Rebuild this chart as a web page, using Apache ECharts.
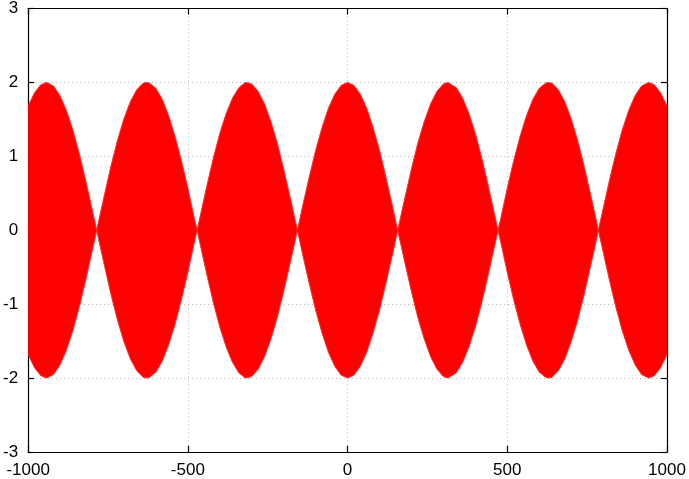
<!DOCTYPE html>
<html>
<head>
<meta charset="utf-8">
<title>beat</title>
<script src="https://cdn.jsdelivr.net/npm/echarts@6/dist/echarts.min.js"></script>
<style>
    html, body {margin: 0; padding: 0; background: #fff;}
    #chart {width: 689px; height: 479px;}
</style>
</head>
<body>
<div id="chart"></div>
<script>
// x positions read along the axis (zeros and peaks of the envelope included)
var xs = [-1000,-980,-960,-942,-920,-900,-880,-860,-840,-820,-800,-785,-780,-760,-740,-720,-700,-680,-660,-640,-628,-620,-600,-580,-560,-540,-520,-500,-480,-471,-460,-440,-420,-400,-380,-360,-340,-320,-314,-300,-280,-260,-240,-220,-200,-180,-160,-157,-140,-120,-100,-80,-60,-40,-20,
    0,20,40,60,80,100,120,140,157,160,180,200,220,240,260,280,300,314,320,340,360,380,400,420,440,460,471,480,500,520,540,560,580,600,620,628,640,660,680,700,720,740,760,780,785,800,820,840,860,880,900,920,942,960,980,1000]
// upper edge of the red band
var upperEnv = [1.68,1.86,1.97,2.00,1.95,1.82,1.62,1.36,1.04,0.68,0.29,0,0.11,0.50,0.88,1.22,1.51,1.74,1.90,1.99,2.00,1.99,1.92,1.77,1.55,1.27,0.94,0.57,0.17,0,0.22,0.61,0.98,1.31,1.58,1.79,1.93,2.00,2.00,1.98,1.88,1.71,1.47,1.18,0.83,0.45,0.06,0,0.34,0.72,1.08,1.39,1.65,1.84,1.96,
    2.00,1.96,1.84,1.65,1.39,1.08,0.72,0.34,0,0.06,0.45,0.83,1.18,1.47,1.71,1.88,1.98,2.00,2.00,1.93,1.79,1.58,1.31,0.98,0.61,0.22,0,0.17,0.57,0.94,1.27,1.55,1.77,1.92,1.99,2.00,1.99,1.90,1.74,1.51,1.22,0.88,0.50,0.11,0,0.29,0.68,1.04,1.36,1.62,1.82,1.95,2.00,1.97,1.86,1.68]
var xTicks = [-1000, -500, 0, 500, 1000]
var yTicks = [-3, -2, -1, 0, 1, 2, 3]

var myChart = echarts.init(document.getElementById('chart'))

var upperData = xs.map(function (x, i) { return [x, upperEnv[i]] })
var lowerData = xs.map(function (x, i) { return [x, -upperEnv[i]] })

var font = 'Liberation Sans, Arial, sans-serif'
var gridLine = {show: true, lineStyle: {color: '#b4b4b4', type: [1, 3], width: 1}}
var frame = {show: true, onZero: false, lineStyle: {color: '#000', width: 1.2}}
var tick = {show: true, inside: true, length: 6, lineStyle: {color: '#000', width: 1.2}}

function axisX(pos, labels) {
    return {
        type: 'value', position: pos, min: xTicks[0], max: xTicks[xTicks.length - 1], interval: 500,
        axisLine: frame, axisTick: tick,
        splitLine: labels ? gridLine : {show: false},
        axisLabel: {show: labels, color: '#000', fontFamily: font, fontSize: 17, margin: 10,
            formatter: function (v) { return String(v) }}
    }
}
function axisY(pos, labels) {
    return {
        type: 'value', position: pos, min: yTicks[0], max: yTicks[yTicks.length - 1], interval: 1,
        axisLine: frame, axisTick: tick,
        splitLine: labels ? gridLine : {show: false},
        axisLabel: {show: labels, color: '#000', fontFamily: font, fontSize: 17, margin: 10}
    }
}

// origin pushed a hair past zero so the two halves overlap (no seam)
function band(data, origin) {
    return {
        type: 'line', data: data, xAxisIndex: 0, yAxisIndex: 0,
        symbol: 'none', silent: true, animation: false,
        lineStyle: {color: '#ff3030', width: 1},
        areaStyle: {color: '#ff0000', opacity: 1, origin: origin}
    }
}

var option = {
    animation: false,
    grid: {left: 27, right: 22, top: 8, bottom: 26, containLabel: false},
    xAxis: [axisX('bottom', true), axisX('top', false)],
    yAxis: [axisY('left', true), axisY('right', false)],
    series: [band(upperData, -0.02), band(lowerData, 0.02)]
}
myChart.setOption(option)
</script>
</body>
</html>
